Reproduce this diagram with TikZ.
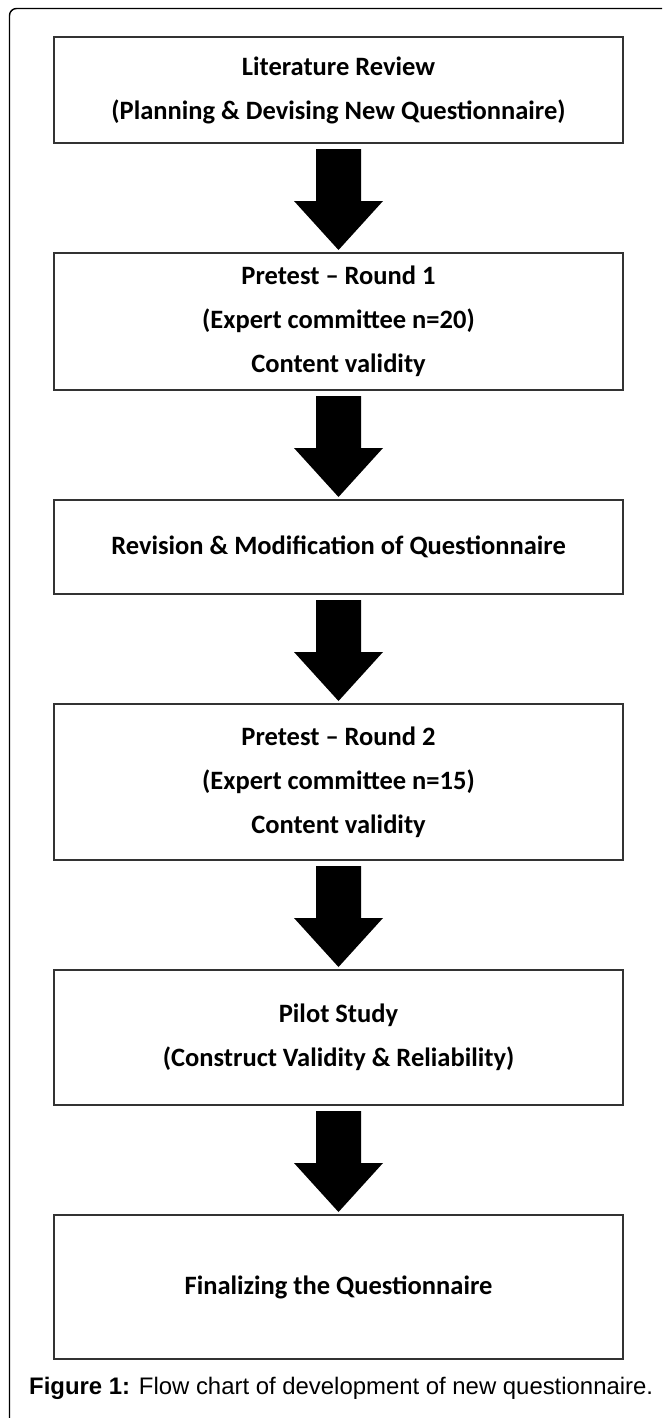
\documentclass[tikz,border=0pt]{standalone}
\usepackage{fontspec}
\setmainfont{Liberation Sans}
\newfontfamily\boxfont[Ligatures=TeX]{Carlito}
\usetikzlibrary{positioning}
\usetikzlibrary{calc}

% block arrow between two stacked boxes
\newcommand{\flowarrow}[2]{%
  \fill[flow arrow]
  ($(#1.south)+(-22.5,-6)$)
  -- ($(#1.south)+(22.5,-6)$)
  -- ($(#2.north)+(22.5,52)$)
  -- ($(#2.north)+(44.5,52)$)
  -- ($(#2.north)+(0,3)$)
  -- ($(#2.north)+(-44.5,52)$)
  -- ($(#2.north)+(-22.5,52)$)
  -- cycle;
}

\tikzset {
  stage/.style = {
    draw = black!80,
    line width = 1.3pt,
    rectangle,
    minimum width = 569pt,
    align = center,
    inner sep = 0pt,
    outer sep = 0pt,
    font = \boxfont\bfseries\fontsize{26.5}{44}\selectfont
  },
  flow arrow/.style = {
    fill = black
  },
  frame line/.style = {
    draw = black,
    line width = 1.4pt,
    rounded corners = 7pt
  },
  node distance = 110pt
}

\begin{document}
\begin{tikzpicture}[x=1pt,y=1pt]
    \useasboundingbox (0,0) rectangle (662,-1418);
    \draw[frame line] (9.5,-1418) -- (9.5,-8.5) -- (662,-8.5);

    \node[stage, minimum height=106pt, anchor=north] (review) at (338.5,-37)
      {Literature Review\\(Planning \& Devising New Questionnaire)};
    \node[stage, minimum height=137pt] (round1) [below=of review]
      {Pretest – Round 1\\(Expert committee n=20)\\Content validity};
    \node[stage, minimum height=94pt] (revision) [below=of round1]
      {Revision \& Modification of Questionnaire};
    \node[stage, minimum height=156pt] (round2) [below=of revision]
      {Pretest – Round 2\\(Expert committee n=15)\\Content validity};
    \node[stage, minimum height=135pt] (pilot) [below=of round2]
      {Pilot Study\\(Construct Validity \& Reliability)};
    \node[stage, minimum height=144pt] (final) [below=of pilot]
      {Finalizing the Questionnaire};

    \flowarrow{review}{round1}
    \flowarrow{round1}{revision}
    \flowarrow{revision}{round2}
    \flowarrow{round2}{pilot}
    \flowarrow{pilot}{final}

    \node[anchor=base west, inner sep=0pt, font=\fontsize{23.9}{28}\selectfont] (caption) at (29,-1394)
      {\textbf{Figure 1:} Flow chart of development of new questionnaire.};
  \end{tikzpicture}
\end{document}
